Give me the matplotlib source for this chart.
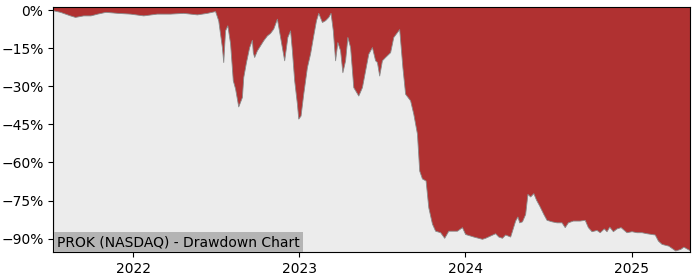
import pandas as pd
import matplotlib
matplotlib.use("Agg")
import matplotlib.pyplot as plt
import matplotlib.dates as mdates
from matplotlib.ticker import FuncFormatter

# drawdown series (percent below running peak)
dates = [
    "2021-07-09", "2021-07-24", "2021-08-15", "2021-08-26", "2021-09-13", "2021-09-29",
    "2021-10-14", "2021-11-01", "2021-11-27", "2021-12-25", "2022-01-23", "2022-02-22",
    "2022-03-23", "2022-04-21", "2022-05-21", "2022-06-12", "2022-06-30", "2022-07-02",
    "2022-07-07", "2022-07-15", "2022-07-18", "2022-07-22", "2022-07-27", "2022-08-02",
    "2022-08-08", "2022-08-13", "2022-08-20", "2022-08-28", "2022-08-31", "2022-09-06",
    "2022-09-13", "2022-09-19", "2022-09-21", "2022-09-24", "2022-09-30", "2022-10-07",
    "2022-10-14", "2022-10-22", "2022-10-29", "2022-11-05", "2022-11-13", "2022-11-20",
    "2022-11-29", "2022-12-06", "2022-12-12", "2022-12-16", "2022-12-21", "2022-12-27",
    "2022-12-30", "2023-01-04", "2023-01-10", "2023-01-18", "2023-01-25", "2023-02-01",
    "2023-02-07", "2023-02-12", "2023-02-20", "2023-02-27", "2023-03-06", "2023-03-11",
    "2023-03-16", "2023-03-21", "2023-03-26", "2023-04-01", "2023-04-06", "2023-04-12",
    "2023-04-17", "2023-04-23", "2023-04-30", "2023-05-11", "2023-05-19", "2023-05-26",
    "2023-06-02", "2023-06-10", "2023-06-17", "2023-06-21", "2023-06-26", "2023-07-02",
    "2023-07-09", "2023-07-20", "2023-07-27", "2023-08-04", "2023-08-09", "2023-08-16",
    "2023-08-22", "2023-09-02", "2023-09-09", "2023-09-17", "2023-09-22", "2023-09-28",
    "2023-10-06", "2023-10-12", "2023-10-20", "2023-10-27", "2023-11-07", "2023-11-16",
    "2023-11-25", "2023-12-14", "2023-12-25", "2024-01-01", "2024-01-19", "2024-02-07",
    "2024-02-14", "2024-02-25", "2024-03-07", "2024-03-14", "2024-03-22", "2024-03-29",
    "2024-04-09", "2024-04-12", "2024-04-20", "2024-04-25", "2024-04-29", "2024-05-05",
    "2024-05-12", "2024-05-17", "2024-05-23", "2024-05-30", "2024-06-05", "2024-06-12",
    "2024-06-21", "2024-06-28", "2024-07-09", "2024-07-20", "2024-07-31", "2024-08-07",
    "2024-08-14", "2024-08-25", "2024-09-09", "2024-09-20", "2024-09-27", "2024-10-05",
    "2024-10-16", "2024-10-23", "2024-11-01", "2024-11-07", "2024-11-13", "2024-11-21",
    "2024-11-29", "2024-12-08", "2024-12-15", "2024-12-21", "2025-01-01", "2025-01-12",
    "2025-01-23", "2025-02-03", "2025-02-21", "2025-02-28", "2025-03-08", "2025-03-23",
    "2025-04-07", "2025-04-18", "2025-04-25", "2025-05-04", "2025-05-10",
]
drawdown = [
    0.0, -0.6, -2.0, -2.6, -2.0, -2.0,
    -1.3, -0.6, -1.0, -1.3, -2.0, -1.3,
    -1.3, -1.0, -1.6, -1.0, -0.3, -1.3,
    -4.0, -14.5, -20.4, -7.9, -5.9, -13.0,
    -27.6, -30.8, -37.9, -34.2, -26.3, -20.4,
    -14.5, -11.6, -16.5, -18.4, -15.8, -13.8,
    -11.8, -9.9, -8.9, -7.2, -3.3, -10.5,
    -19.7, -10.5, -7.9, -15.8, -27.6, -36.8,
    -42.7, -41.5, -32.8, -22.4, -17.0, -9.8,
    -3.9, -1.0, -4.6, -3.9, -2.6, -1.0,
    -7.9, -19.7, -12.5, -15.8, -24.4, -19.7,
    -10.5, -14.5, -30.3, -33.6, -30.3, -23.7,
    -17.1, -14.5, -19.7, -20.4, -25.7, -19.7,
    -18.4, -16.5, -10.5, -8.6, -7.4, -22.4,
    -32.9, -35.5, -40.8, -48.6, -63.2, -66.3,
    -67.1, -77.7, -84.1, -86.9, -87.5, -89.7,
    -86.9, -86.9, -85.5, -88.2, -89.2, -90.1,
    -89.7, -88.8, -87.9, -89.2, -89.7, -88.4,
    -89.2, -87.5, -82.9, -81.3, -83.6, -83.2,
    -80.3, -72.4, -73.4, -72.1, -74.7, -77.0,
    -80.3, -82.6, -83.2, -83.6, -83.6, -85.5,
    -83.6, -82.9, -82.9, -82.6, -85.5, -87.1,
    -86.6, -87.5, -86.0, -87.1, -85.3, -87.1,
    -86.0, -85.5, -86.6, -87.5, -87.1, -87.5,
    -87.5, -87.9, -88.4, -90.8, -92.1, -92.8,
    -94.7, -94.1, -93.2, -94.1, -94.7,
]
yticks = [0, -15, -30, -45, -60, -75, -90]
title = "PROK (NASDAQ) - Drawdown Chart"

x = pd.to_datetime(dates)
y_top, y_bottom = 1.2, -95.3

fig = plt.figure(figsize=(7, 2.8), dpi=100)
ax = fig.add_axes([0.076, 0.10, 0.910, 0.874])
ax.set_facecolor("#b03131")
ax.fill_between(x, drawdown, y_bottom, color="#ececec", edgecolor="#8a8a8a", lw=0.6)

ax.set_xlim(x[0], x[-1])
ax.set_ylim(y_bottom, y_top)
ax.set_yticks(yticks)
ax.yaxis.set_major_formatter(FuncFormatter(lambda v, p: f"{v:.0f}%".replace("-", "\u2212")))
ax.xaxis.set_major_locator(mdates.YearLocator())
ax.xaxis.set_major_formatter(mdates.DateFormatter("%Y"))
ax.tick_params(labelsize=10)

ax.text(0.006, 0.012, title, transform=ax.transAxes, fontsize=10, ha="left", va="bottom",
        bbox=dict(boxstyle="square,pad=0.2", facecolor="#b4b4b4", edgecolor="none"))

fig.savefig("out.png", dpi=100)
